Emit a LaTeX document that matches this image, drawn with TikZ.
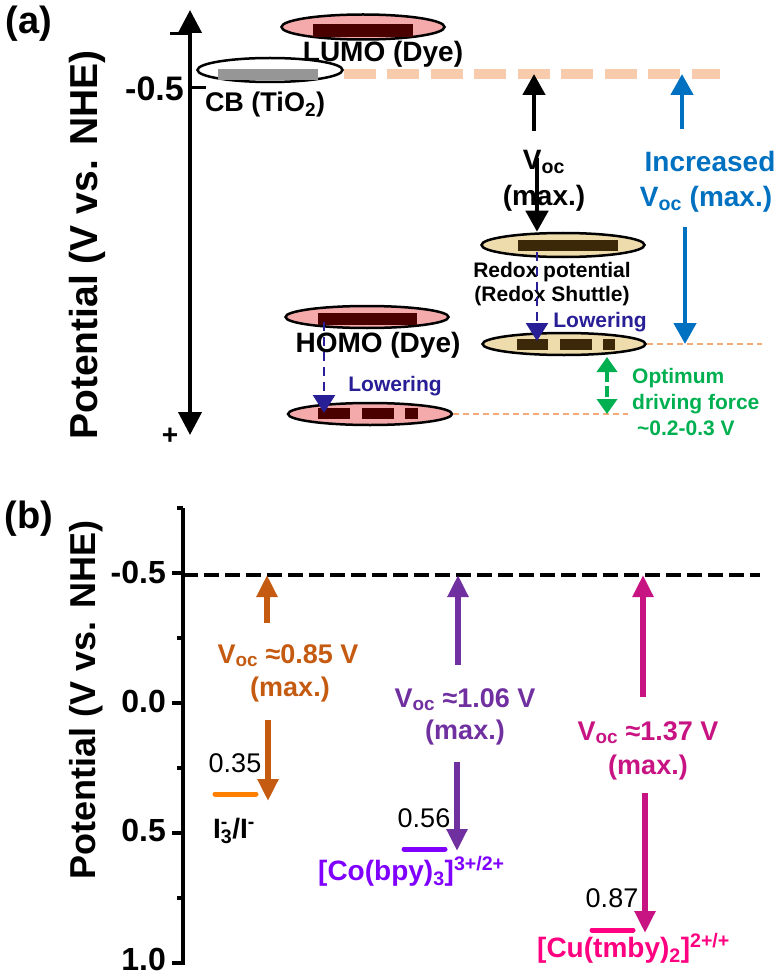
\documentclass[tikz,border=0pt]{standalone}
\usepackage{fontspec}
\setmainfont{Liberation Sans}
\usepackage{xcolor}
\usetikzlibrary{arrows.meta,shapes.geometric,positioning}

\definecolor{dyepink}{RGB}{244,170,170}
\definecolor{dyebar}{RGB}{75,0,0}
\definecolor{redoxtan}{RGB}{238,220,172}
\definecolor{redoxbar}{RGB}{58,40,8}
\definecolor{cbgray}{RGB}{150,150,150}
\definecolor{peach}{RGB}{248,203,173}
\definecolor{lineorange}{RGB}{244,170,120}
\definecolor{lownavy}{RGB}{40,30,150}
\definecolor{incblue}{RGB}{0,112,192}
\definecolor{optgreen}{RGB}{0,176,80}
\definecolor{iodarrow}{RGB}{197,90,17}
\definecolor{iodbar}{RGB}{255,128,0}
\definecolor{coarrow}{RGB}{112,48,160}
\definecolor{colabel}{RGB}{128,0,255}
\definecolor{cuarrow}{RGB}{200,20,130}
\definecolor{culabel}{RGB}{255,0,128}

\newcommand{\fsz}[1]{\fontsize{#1}{#1}\selectfont}

\begin{document}
\begin{tikzpicture}[
    x=1pt, y=-1pt,
    font=\bfseries,
    orbital/.style={ellipse, draw, line width=2.5pt, minimum width=163pt, minimum height=24pt, inner sep=0pt},
    bigarr/.style={line width=4.5pt, -{Triangle[width=22pt,length=21pt]}},
    voltarr/.style={line width=5.5pt, -{Triangle[width=20pt,length=22pt]}},
    lowarr/.style={lownavy, line width=2.5pt, dash pattern=on 9pt off 6pt, -{Triangle[width=22pt,length=18pt]}},
    lvlbar/.style={line width=5pt, line cap=round},
    refline/.style={lineorange, line width=2pt, dash pattern=on 6pt off 4pt},
    txt/.style={inner sep=0pt, align=center}
]
    \useasboundingbox (0,0) rectangle (778,976);

    % ---------------- (a) ----------------
    \node[txt, font=\bfseries\fsz{38}] (alabel) at (29,24) {(a)};
    \node[txt, rotate=90, font=\bfseries\fsz{39}] (aylabel) at (87,245) {Potential (V vs. NHE)};

    % Axis
    \coordinate (atop) at (190,10);
    \coordinate (abot) at (190,435);
    \draw[line width=4pt, {Triangle[width=23pt,length=23pt]}-{Triangle[width=23pt,length=23pt]}] (atop) -- (abot);
    \draw[line width=3pt] (170,34) -- (190,34);
    \draw[line width=3pt] (190,88) -- (206,88);
    \node[txt, anchor=east, font=\bfseries\fsz{34}] (am05) at (184,89) {-0.5};
    \node[txt, font=\bfseries\fsz{28}] (aplus) at (170,436) {+};

    % CB and LUMO
    \node[orbital, fill=white, minimum width=145pt] (cb) at (270,70) {};
    \fill[cbgray] (218,69) rectangle (318,80);
    \node[txt, anchor=base, font=\bfseries\fsz{27}] (cbtxt) at (265,112) {CB (TiO\textsubscript{2})};

    \node[orbital, fill=dyepink, minimum height=25pt] (lumo) at (363,27) {};
    \fill[dyebar] (313,24) rectangle (413,37);
    \node[txt, anchor=base, font=\bfseries\fsz{28}] (lumotxt) at (383,62) {LUMO (Dye)};

    % Reference level
    \coordinate (peachend) at (720,74);
    \draw[peach, line width=10pt, dash pattern=on 32pt off 11.5pt] (cb.east |- peachend) -- (peachend);

    % Redox levels
    \node[orbital, fill=redoxtan] (redoxup) at (563,245) {};
    \fill[redoxbar] (518,240) rectangle (618,251);
    \node[txt, anchor=base, font=\bfseries\fsz{21}] (redoxtxt) at (552,277) {Redox potential};
    \node[txt, anchor=base, font=\bfseries\fsz{21}] (shuttletxt) at (552,301) {(Redox Shuttle)};

    \node[orbital, fill=redoxtan, minimum height=22pt] (redoxlow) at (564,344) {};
    \fill[redoxbar] (517,339) rectangle (548,350);
    \fill[redoxbar] (560,339) rectangle (592,350);
    \fill[redoxbar] (603,339) rectangle (615,350);
    \coordinate (redoxref) at (762,344);
    \draw[refline] (redoxlow.east) -- (redoxref);

    % HOMO levels
    \node[orbital, fill=dyepink, minimum height=22pt] (homoup) at (367,317) {};
    \fill[dyebar] (318,313) rectangle (417,325);
    \node[txt, anchor=base, font=\bfseries\fsz{28}] (homotxt) at (378,352) {HOMO (Dye)};

    \node[orbital, fill=dyepink, minimum height=22pt, minimum width=164pt] (homolow) at (370,414) {};
    \fill[dyebar] (318,408) rectangle (350,419);
    \fill[dyebar] (362,408) rectangle (394,419);
    \fill[dyebar] (405,408) rectangle (418,419);
    \coordinate (homoref) at (628,414);
    \draw[refline] (homolow.east) -- (homoref);

    % Lowering arrows
    \coordinate (rlowtop) at (537,252);
    \coordinate (rlowbot) at (537,341);
    \draw[lowarr] (rlowtop) -- (rlowbot);
    \node[txt, anchor=base, lownavy, font=\bfseries\fsz{21}] (rlowtxt) at (600,327) {Lowering};
    \coordinate (hlowtop) at (324,322);
    \coordinate (hlowbot) at (324,413);
    \draw[lowarr] (hlowtop) -- (hlowbot);
    \node[txt, anchor=base, lownavy, font=\bfseries\fsz{21}] (hlowtxt) at (395,391) {Lowering};

    % Voc (max.)
    \node[txt, anchor=base, font=\bfseries\fsz{28}] (voctxt) at (544,170) {V\textsubscript{oc}};
    \node[txt, anchor=base, font=\bfseries\fsz{28}] (vocmax) at (544,206) {(max.)};
    \coordinate (vocup) at (534,131);
    \draw[bigarr] (vocup) -- (vocup |- peachend);
    \coordinate (vocdown) at (537,158);
    \draw[bigarr] (vocdown) -- (vocdown |- redoxup.north);

    % Increased Voc
    \node[txt, anchor=base, incblue, font=\bfseries\fsz{28}] (inctxt) at (710,172) {Increased};
    \node[txt, anchor=base, incblue, font=\bfseries\fsz{28}] (incvoc) at (706,207) {V\textsubscript{oc} (max.)};
    \coordinate (incup) at (682,129);
    \draw[bigarr, incblue] (incup) -- (incup |- peachend);
    \coordinate (incdown) at (685,227);
    \draw[bigarr, incblue] (incdown) -- (incdown |- redoxref);

    % Driving force
    \coordinate (drivetop) at (607,357);
    \coordinate (drivebot) at (607,414);
    \draw[optgreen, line width=4pt, dash pattern=on 11pt off 4pt,
          {Triangle[width=20pt,length=15pt]}-{Triangle[width=20pt,length=15pt]}] (drivetop) -- (drivebot);
    \node[txt, anchor=base west, optgreen, font=\bfseries\fsz{21}] (opttxt) at (632,383) {Optimum};
    \node[txt, anchor=base west, optgreen, font=\bfseries\fsz{21}] (drivetxt) at (632,409) {driving force};
    \node[txt, anchor=base west, optgreen, font=\bfseries\fsz{21}] (rangetxt) at (637,435) {\textasciitilde0.2-0.3 V};

    % ---------------- (b) ----------------
    \node[txt, font=\bfseries\fsz{38}] (blabel) at (29,519) {(b)};
    \node[txt, rotate=90, font=\bfseries\fsz{36}] (bylabel) at (86,700) {Potential (V vs. NHE)};

    % Axis and ticks
    \coordinate (btop) at (183,508);
    \coordinate (bbot) at (183,965);
    \draw[line width=4pt] (btop) -- (bbot);
    \foreach \v/\t in {-0.5/-0.5, 0/0.0, 0.5/0.5, 1/1.0} {
        \draw[line width=4pt] (172,703+260*\v) -- (183,703+260*\v);
        \node[txt, anchor=east, font=\bfseries\fsz{32}] (tick\t) at (166,701+258*\v) {\t};
    }
    \foreach \v in {-0.75,-0.25,0.25,0.75}
        \draw[line width=4pt] (177,703+260*\v) -- (183,703+260*\v);

    % -0.5 V reference
    \coordinate (bref) at (760,575);
    \draw[line width=4.5pt, dash pattern=on 15pt off 6pt] (183,575) -- (bref);

    % I3-/I-
    \draw[lvlbar, iodbar] (215,794) -- (256,794);
    \node[txt, anchor=base, font=\fsz{27}] (iodval) at (235,772) {0.35};
    \node[txt, anchor=base west, font=\bfseries\fsz{28}] (iodname) at (213,838) {I\rlap{\textsuperscript{-}}\textsubscript{3}/I\textsuperscript{-}};
    \node[txt, anchor=base, iodarrow, font=\bfseries\fsz{27}] (iodvoc) at (288,663) {V\textsubscript{oc} ≈0.85 V};
    \node[txt, anchor=base, iodarrow, font=\bfseries\fsz{27}] (iodmax) at (290,696) {(max.)};
    \coordinate (iodup) at (267,623);
    \draw[voltarr, iodarrow] (iodup) -- (iodup |- bref);
    \coordinate (ioddown) at (268,720);
    \draw[voltarr, iodarrow] (ioddown) -- (268,801);

    % Co(bpy)3
    \draw[lvlbar, colabel] (404,849) -- (445,849);
    \node[txt, anchor=base, font=\fsz{27}] (coval) at (424,827) {0.56};
    \node[txt, anchor=base west, colabel, font=\bfseries\fsz{28}] (coname) at (318,880) {[Co(bpy)\textsubscript{3}]\textsuperscript{3+/2+}};
    \node[txt, anchor=base, coarrow, font=\bfseries\fsz{27}] (covoc) at (465,707) {V\textsubscript{oc} ≈1.06 V};
    \node[txt, anchor=base, coarrow, font=\bfseries\fsz{27}] (comax) at (465,739) {(max.)};
    \coordinate (coup) at (458,665);
    \draw[voltarr, coarrow] (coup) -- (coup |- bref);
    \coordinate (codown) at (457,762);
    \draw[voltarr, coarrow] (codown) -- (457,851);

    % Cu(tmby)2
    \draw[lvlbar, culabel] (592,930) -- (633,930);
    \node[txt, anchor=base, font=\fsz{27}] (cuval) at (612,907) {0.87};
    \node[txt, anchor=base west, culabel, font=\bfseries\fsz{28}] (cuname) at (537,957) {[Cu(tmby)\textsubscript{2}]\textsuperscript{2+/+}};
    \node[txt, anchor=base, cuarrow, font=\bfseries\fsz{27}] (cuvoc) at (648,740) {V\textsubscript{oc} ≈1.37 V};
    \node[txt, anchor=base, cuarrow, font=\bfseries\fsz{27}] (cumax) at (648,774) {(max.)};
    \coordinate (cuup) at (643,697);
    \draw[voltarr, cuarrow] (cuup) -- (cuup |- bref);
    \coordinate (cudown) at (645,793);
    \draw[voltarr, cuarrow] (cudown) -- (645,933);
\end{tikzpicture}
\end{document}
